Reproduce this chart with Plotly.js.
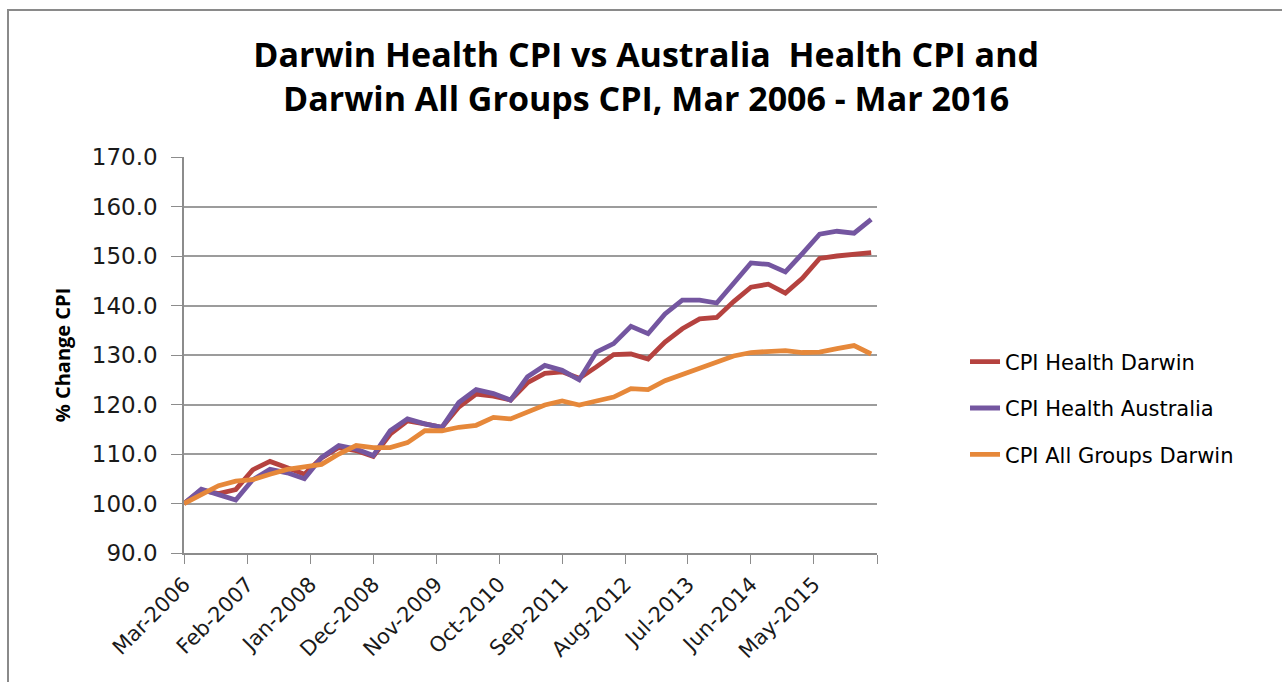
<!DOCTYPE html>
<html>
<head>
<meta charset="utf-8">
<script src="https://cdn.plot.ly/plotly-3.0.1.min.js"></script>
<style>
  html, body { margin: 0; padding: 0; background: #ffffff; overflow: hidden; }
  #wrap { position: relative; width: 1282px; height: 682px; }
  #chart { position: absolute; left: 0; top: 0; width: 1282px; height: 682px; }
  #frame { position: absolute; left: 7px; top: 9px; width: 1290px; height: 700px;
           border: 2px solid #8a8a8a; pointer-events: none; box-sizing: border-box; }
</style>
</head>
<body>
<div id="wrap">
  <div id="chart"></div>
  <div id="frame"></div>
</div>
<script>
// Quarterly dates, Mar 2006 - Mar 2016
const quarters = [
  '2006-03-01','2006-06-01','2006-09-01','2006-12-01',
  '2007-03-01','2007-06-01','2007-09-01','2007-12-01',
  '2008-03-01','2008-06-01','2008-09-01','2008-12-01',
  '2009-03-01','2009-06-01','2009-09-01','2009-12-01',
  '2010-03-01','2010-06-01','2010-09-01','2010-12-01',
  '2011-03-01','2011-06-01','2011-09-01','2011-12-01',
  '2012-03-01','2012-06-01','2012-09-01','2012-12-01',
  '2013-03-01','2013-06-01','2013-09-01','2013-12-01',
  '2014-03-01','2014-06-01','2014-09-01','2014-12-01',
  '2015-03-01','2015-06-01','2015-09-01','2015-12-01',
  '2016-03-01'
];

const healthDarwin = [
  100.0, 102.7, 102.0, 102.8, 106.8, 108.5, 107.2, 105.9, 109.2, 111.3,
  110.7, 109.5, 114.0, 116.7, 116.1, 115.4, 119.5, 122.1, 121.7, 120.9,
  124.4, 126.3, 126.6, 125.3, 127.6, 130.1, 130.2, 129.2, 132.6, 135.3,
  137.3, 137.6, 140.8, 143.7, 144.3, 142.5, 145.5, 149.5, 150.0, 150.3,
  150.7
];

const healthAustralia = [
  100.0, 102.9, 101.8, 100.7, 104.8, 106.9, 106.2, 105.0, 109.3, 111.7,
  111.0, 109.7, 114.7, 117.1, 116.1, 115.4, 120.4, 123.0, 122.2, 120.9,
  125.6, 127.9, 126.9, 125.0, 130.6, 132.3, 135.8, 134.3, 138.3, 141.1,
  141.1, 140.5, 144.5, 148.6, 148.3, 146.8, 150.5, 154.4, 155.0, 154.6,
  157.4
];

const allGroupsDarwin = [
  100.0, 101.8, 103.6, 104.5, 104.8, 105.9, 106.9, 107.4, 107.9, 110.0,
  111.7, 111.3, 111.3, 112.3, 114.7, 114.7, 115.4, 115.8, 117.4, 117.1,
  118.5, 119.9, 120.7, 119.9, 120.7, 121.5, 123.2, 123.0, 124.8, 126.1,
  127.2, 128.5, 129.8, 130.5, 130.7, 130.9, 130.5, 130.6, 131.3, 131.9,
  130.2
];

const seriesNames = ['CPI Health Darwin', 'CPI Health Australia', 'CPI All Groups Darwin'];

const xTickVals = [
  '2006-03-01','2007-02-01','2008-01-01','2008-12-01','2009-11-01','2010-10-01',
  '2011-09-01','2012-08-01','2013-07-01','2014-06-01','2015-05-01','2016-04-01'
];
const xTickText = [
  'Mar-2006','Feb-2007','Jan-2008','Dec-2008','Nov-2009','Oct-2010',
  'Sep-2011','Aug-2012','Jul-2013','Jun-2014','May-2015',''
];

const colors = ['#B5423F', '#7456A0', '#E6883A'];
const seriesData = [healthDarwin, healthAustralia, allGroupsDarwin];

const traces = seriesData.map((ys, i) => ({
  type: 'scatter',
  mode: 'lines',
  x: quarters,
  y: ys,
  name: seriesNames[i],
  legendgroup: 'g' + i,
  line: { color: colors[i], width: 4.8 },
  hoverinfo: 'x+y+name'
}));

const layout = {
  width: 1282,
  height: 682,
  paper_bgcolor: '#ffffff',
  plot_bgcolor: '#ffffff',
  margin: { l: 184, r: 405, t: 157, b: 129, pad: 0 },
  title: {
    text: 'Darwin Health CPI vs Australia  Health CPI and<br>Darwin All Groups CPI, Mar 2006 - Mar 2016',
    font: { family: 'Open Sans, sans-serif', size: 34, color: '#000000', weight: 'bold' },
    xref: 'container', x: 0.504, xanchor: 'center',
    yref: 'container', y: 0.902, yanchor: 'top'
  },
  xaxis: {
    type: 'date',
    range: ['2006-03-01', '2016-04-01'],
    tickmode: 'array',
    tickvals: xTickVals,
    ticktext: xTickText,
    tickangle: -45,
    tickfont: { family: 'DejaVu Sans, sans-serif', size: 21, color: '#1a1a1a' },
    ticks: 'outside',
    ticklen: 9,
    tickwidth: 1,
    tickcolor: '#8c8c8c',
    showline: true,
    linecolor: '#8c8c8c',
    linewidth: 1.5,
    showgrid: false,
    zeroline: false,
    fixedrange: true
  },
  yaxis: {
    range: [90, 170],
    tickmode: 'linear',
    tick0: 90,
    dtick: 10,
    tickformat: '.1f',
    tickfont: { family: 'DejaVu Sans, sans-serif', size: 23, color: '#1a1a1a' },
    ticks: 'outside',
    ticklen: 11,
    tickwidth: 1,
    tickcolor: '#8c8c8c',
    ticklabelstandoff: 9,
    showline: true,
    linecolor: '#8c8c8c',
    linewidth: 1.5,
    showgrid: true,
    gridcolor: '#9c9c9c',
    gridwidth: 1.5,
    zeroline: false,
    fixedrange: true,
    title: {
      text: '% Change CPI',
      font: { family: 'Open Sans, sans-serif', size: 20, color: '#000000', weight: 'bold' },
      standoff: 16
    }
  },
  showlegend: true,
  legend: {
    x: 1.127, xanchor: 'left',
    y: 0.366, yanchor: 'middle',
    font: { family: 'DejaVu Sans, sans-serif', size: 21, color: '#000000' },
    bgcolor: 'rgba(0,0,0,0)',
    tracegroupgap: 16,
    itemwidth: 30
  }
};

Plotly.newPlot('chart', traces, layout, { displayModeBar: false, staticPlot: false });
</script>
</body>
</html>
